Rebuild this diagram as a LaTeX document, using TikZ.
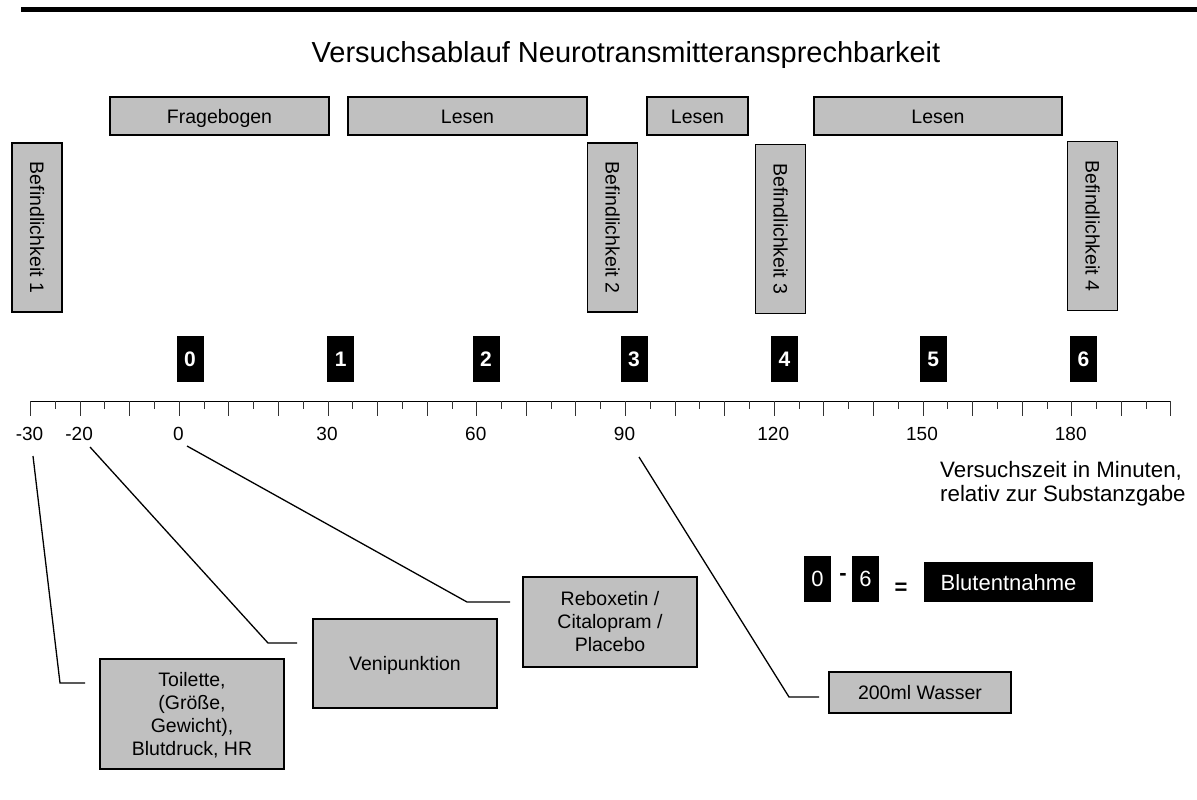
\documentclass[tikz,border=0pt]{standalone}
\usepackage{fontspec}
\setmainfont{Liberation Sans}
\definecolor{boxgrey}{HTML}{C0C0C0}
\newcommand{\fs}[2]{\fontsize{#1}{#2}\selectfont}
\begin{document}
\begin{tikzpicture}[x=1pt,y=-1pt,
  greybox/.style={draw=black, line width=1.5pt, fill=boxgrey, inner sep=0pt,
    font=\fs{19.5}{23}, align=center},
  oneline/.style={text height=16pt, text depth=2pt},
  vbox/.style={greybox, oneline, rotate=-90, minimum width=169pt, minimum height=50pt},
  topbox/.style={greybox, oneline, minimum height=38pt},
  numbox/.style={fill=black, text=white, inner sep=0pt, minimum width=27pt,
    minimum height=46pt, font=\fs{21}{21}\bfseries},
  legnum/.style={fill=black, text=white, inner sep=0pt, minimum width=27pt,
    minimum height=46pt, font=\fs{22}{22}},
  leader/.style={draw=black, line width=1.3pt},
  tick/.style={draw=black!80, line width=0.9pt},
  ticklabel/.style={font=\fs{19}{19}, inner sep=0pt}]
\useasboundingbox (0,0) rectangle (1197,800);

% heading rule and title
\coordinate (rule0) at (21,9.3);
\coordinate (rule1) at (1197,9.3);
\draw[line width=5.3pt] (rule0) -- (rule1);
\node[font=\fs{29}{29}] (title) at (626,55) {Versuchsablauf Neurotransmitteransprechbarkeit};

% activity blocks
\node[topbox, minimum width=219pt] (frage) at (219.5,116) {Fragebogen};
\node[topbox, minimum width=239pt] (lesen1) at (467.5,116) {Lesen};
\node[topbox, minimum width=101pt] (lesen2) at (697.5,116) {Lesen};
\node[topbox, minimum width=248pt] (lesen3) at (938,116) {Lesen};

% mood ratings
\node[vbox] (bef1) at (37,227.5) {Befindlichkeit 1};
\node[vbox] (bef2) at (612.5,227.5) {Befindlichkeit 2};
\node[vbox] (bef3) at (780.5,229) {Befindlichkeit 3};
\node[vbox] (bef4) at (1092.5,226) {Befindlichkeit 4};

% blood samples
\node[numbox] (b0) at (190,359) {0};
\node[numbox] (b1) at (340.7,359) {1};
\node[numbox] (b2) at (486,359) {2};
\node[numbox] (b3) at (634,359) {3};
\node[numbox] (b4) at (784.5,359) {4};
\node[numbox] (b5) at (933.3,359) {5};
\node[numbox] (b6) at (1083.5,359) {6};

% time axis: 1 minute = 4.958pt, 0 at 179.3
\coordinate (ax0) at (30.6,401);
\coordinate (ax1) at (1170.9,401);
\draw[line width=1pt] (ax0) -- (ax1);
\foreach \t in {-30,-20,...,200}
  \draw[tick] ({179.3+4.958*\t},401) -- ++(0,15);
\foreach \t in {-25,-15,...,195}
  \draw[tick] ({179.3+4.958*\t},401) -- ++(0,8);
\foreach \t/\n in {-30/m30,-20/m20,0/p0,30/p30,60/p60,90/p90,120/p120,150/p150,180/p180}
  \node[ticklabel] (lab\n) at ({179.3+4.958*\t-1},434) {\t};

\node[font=\fs{22.3}{23.5}, align=left, anchor=west, inner sep=0pt] (axcap) at (940,483.5)
  {Versuchszeit in Minuten,\\relativ zur Substanzgabe};

% legend
\node[legnum] (lg0) at (817.5,579) {0};
\node[legnum] (lg6) at (865.5,579) {6};
\node[font=\fs{22}{22}\bfseries, inner sep=0pt, anchor=base] (lgdash) at (843,580.5) {-};
\node[font=\fs{22}{22}\bfseries, inner sep=0pt, anchor=base] (lgeq) at (901,594) {=};
\node[fill=black, text=white, inner sep=0pt, minimum width=169pt, minimum height=40pt,
  text height=17pt, text depth=1pt, font=\fs{22}{22}] (lgblut) at (1008.5,582) {Blutentnahme};

% events
\node[greybox, minimum width=184pt, minimum height=110pt, text height=84pt, text depth=2pt]
  (toil) at (192,714) {Toilette,\\(Größe,\\Gewicht),\\Blutdruck, HR};
\node[greybox, oneline, minimum width=184pt, minimum height=89pt] (veni) at (405,663.5) {Venipunktion};
\node[greybox, minimum width=174pt, minimum height=90pt] (drug) at (610,622)
  {Reboxetin /\\Citalopram /\\Placebo};
\node[greybox, oneline, minimum width=182pt, minimum height=41pt] (water) at (920,692.5) {200ml Wasser};

% leaders from the time axis to the events
\coordinate (s1) at (33,456);  \coordinate (k1) at (60,683);  \coordinate (e1) at (85,683);
\coordinate (s2) at (90,447);  \coordinate (k2) at (268,643); \coordinate (e2) at (297,643);
\coordinate (s3) at (187,446); \coordinate (k3) at (467,602); \coordinate (e3) at (510,602);
\coordinate (s4) at (639,457); \coordinate (k4) at (789,697); \coordinate (e4) at (819,697);
\draw[leader] (s1) -- (k1) -- (e1);
\draw[leader] (s2) -- (k2) -- (e2);
\draw[leader] (s3) -- (k3) -- (e3);
\draw[leader] (s4) -- (k4) -- (e4);
\end{tikzpicture}
\end{document}
